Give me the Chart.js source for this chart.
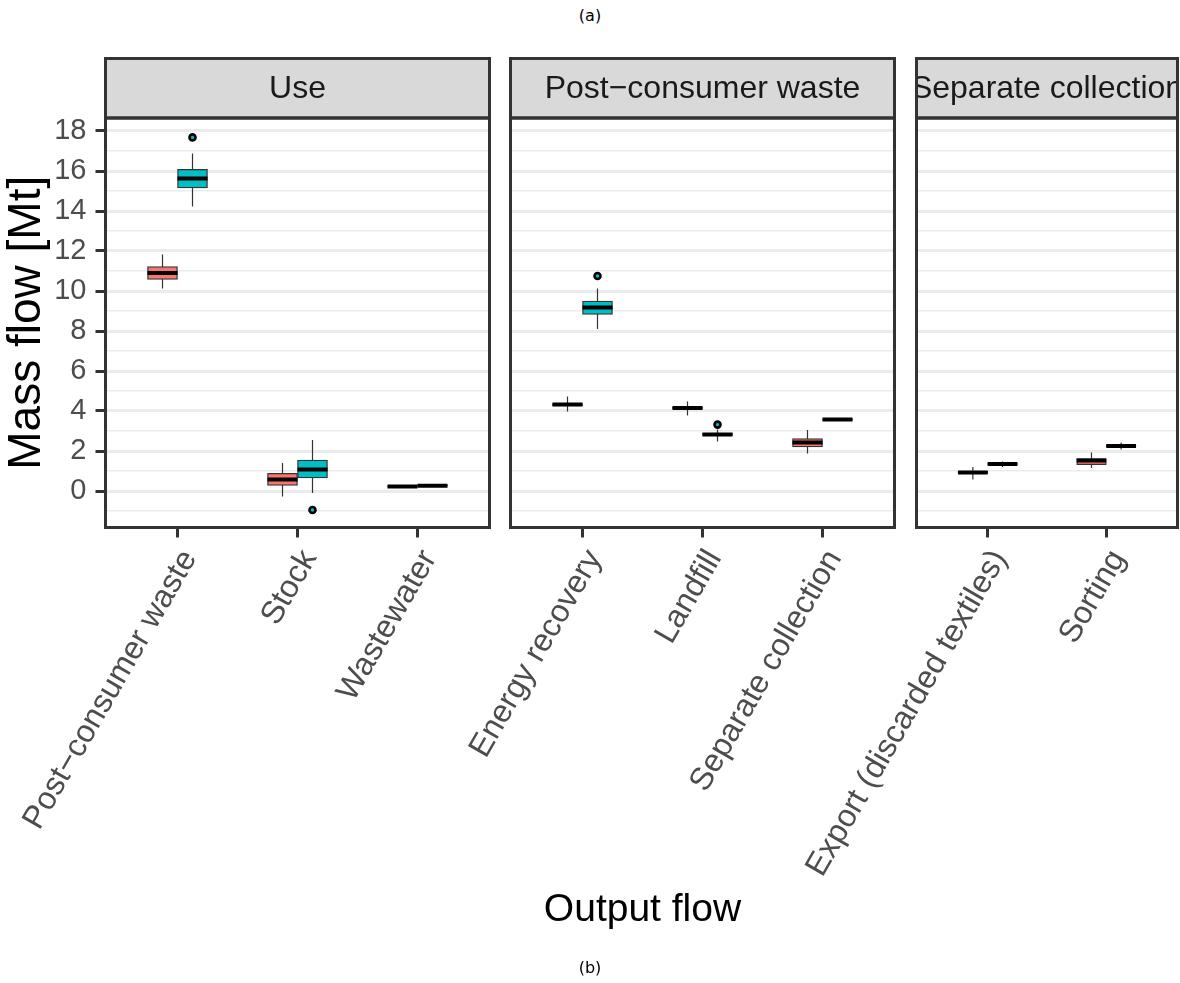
<!DOCTYPE html>
<html>
<head>
<meta charset="utf-8">
<script src="https://cdn.jsdelivr.net/npm/chart.js@4.4.1/dist/chart.umd.min.js"></script>
<style>
  html, body { margin: 0; padding: 0; background: #ffffff; }
  #page { position: relative; width: 1180px; height: 983px; overflow: hidden; font-family: "Liberation Sans", Arial, sans-serif; }
  #page canvas { position: absolute; left: 0; top: 0; }
  .cap { position: absolute; left: 0; width: 1180px; text-align: center; font-family: "DejaVu Sans", sans-serif; font-size: 16px; line-height: 1; color: #000; }
  #xtitle { position: absolute; left: 105px; width: 1075px; top: 888px; text-align: center; font-size: 39px; line-height: 1; color: #000; }
</style>
</head>
<body>
<div id="page">
  <div class="cap" style="top:8px">(a)</div>
  <canvas id="panelUse" width="1180" height="983"></canvas>
  <canvas id="panelWaste" width="1180" height="983"></canvas>
  <canvas id="panelCollection" width="1180" height="983"></canvas>
  <div id="xtitle">Output flow</div>
  <div class="cap" style="top:960px">(b)</div>
</div>
<script>
// Facet titles and output flows per facet
const panelTitles = ["Use", "Post−consumer waste", "Separate collection"];
const useFlows = ["Post−consumer waste", "Stock", "Wastewater"];
const wasteFlows = ["Energy recovery", "Landfill", "Separate collection"];
const collectionFlows = ["Export (discarded textiles)", "Sorting"];

// Box summaries per flow: [lower whisker, Q1, median, Q3, upper whisker]
const useRed = [[10.13, 10.58, 10.90, 11.22, 11.83], [-0.27, 0.28, 0.58, 0.88, 1.40], [0.20, 0.20, 0.22, 0.24, 0.25]];
const useTeal = [[14.22, 15.15, 15.63, 16.08, 16.87], [-0.10, 0.65, 1.08, 1.55, 2.55], [0.25, 0.25, 0.265, 0.28, 0.29]];
const wasteRed = [[3.97, 4.27, 4.32, 4.37, 4.72], [3.78, 4.10, 4.15, 4.20, 4.48], [1.87, 2.20, 2.42, 2.62, 3.05]];
const wasteTeal = [[8.10, 8.83, 9.18, 9.50, 10.12], [2.47, 2.78, 2.83, 2.88, 3.08], [3.52, 3.54, 3.57, 3.60, 3.62]];
const collectionRed = [[0.58, 0.88, 0.93, 0.98, 1.20], [1.15, 1.32, 1.52, 1.62, 1.92]];
const collectionTeal = [[1.20, 1.31, 1.35, 1.39, 1.48], [2.07, 2.20, 2.25, 2.30, 2.42]];

// Outlying runs per flow
const useRedOutliers = [[], [], []];
const useTealOutliers = [[17.68], [-0.95], []];
const wasteRedOutliers = [[], [], []];
const wasteTealOutliers = [[10.75], [3.32], []];
const collectionRedOutliers = [[], []];
const collectionTealOutliers = [[], []];

// Value axis
const yTickValues = [0, 2, 4, 6, 8, 10, 12, 14, 16, 18];
const yMinorValues = [-1, 1, 3, 5, 7, 9, 11, 13, 15, 17];
const yMin = -1.825, yMax = 18.65;

const RED = "#F8766D", TEAL = "#00BFC4";
const PANEL_TOP = 118, PANEL_BOTTOM = 527.5, STRIP_TOP = 58.5;
const X_AXIS_HEIGHT = 400;
const PAGE_W = 1180, PAGE_H = 983;
const FONT = '"Liberation Sans", Arial, sans-serif';

// Facet frame: grey strip with its title, dark border round the panel
const facetFrame = {
  id: "facetFrame",
  afterDraw(chart, args, o) {
    const { ctx, chartArea: ca } = chart;
    const w = ca.right - ca.left;
    ctx.save();
    ctx.fillStyle = "#D9D9D9";
    ctx.fillRect(ca.left, o.stripTop, w, ca.top - o.stripTop);
    ctx.lineWidth = 3;
    ctx.strokeStyle = "#333333";
    ctx.strokeRect(ca.left, o.stripTop, w, ca.top - o.stripTop);
    ctx.strokeRect(ca.left, ca.top, w, ca.bottom - ca.top);
    ctx.beginPath();
    ctx.rect(ca.left + 1.5, o.stripTop + 1.5, w - 3, ca.top - o.stripTop - 3);
    ctx.clip();
    ctx.fillStyle = "#1A1A1A";
    ctx.font = "32px " + FONT;
    ctx.textAlign = "center";
    ctx.textBaseline = "middle";
    ctx.fillText(o.title, (ca.left + ca.right) / 2, (o.stripTop + ca.top) / 2 + 1);
    ctx.restore();
  }
};

function boxDatasets(stats, outliers, offset, half, boxPx, color) {
  const whiskers = [], medians = [], boxes = [], points = [];
  stats.forEach((s, i) => {
    const x = i + offset;
    whiskers.push({ x: x, y: s[0] }, { x: x, y: s[4] }, { x: x, y: null });
    medians.push({ x: x - half, y: s[2] }, { x: x + half, y: s[2] }, { x: x, y: null });
    boxes.push({ x: x, y: [s[1], s[3]] });
    outliers[i].forEach(v => points.push({ x: x, y: v }));
  });
  return [
    { type: "line", data: whiskers, borderColor: "#333333", borderWidth: 1.2, pointRadius: 0, spanGaps: false, order: 3 },
    { type: "bar", data: boxes, backgroundColor: color, borderColor: "#333333", borderWidth: 1.3,
      borderSkipped: false, grouped: false, barThickness: boxPx, order: 2 },
    { type: "line", data: medians, borderColor: "#000000", borderWidth: 4, borderCapStyle: "butt",
      pointRadius: 0, spanGaps: false, order: 1 },
    { type: "scatter", data: points, pointRadius: 3, pointBorderWidth: 2.6, pointBackgroundColor: color,
      pointBorderColor: "#000000", order: 0 }
  ];
}

function makePanel(id, title, flows, red, teal, redOut, tealOut, left, right, showY) {
  const n = flows.length;
  const xMin = -0.6, xMax = n - 0.4;
  const unitPx = (right - left) / (xMax - xMin);
  const half = 0.125;                 // half width of one box, in flow units
  const boxPx = 2 * half * unitPx;

  const datasets = [
    ...boxDatasets(red, redOut, -half, half, boxPx, RED),
    ...boxDatasets(teal, tealOut, half, half, boxPx, TEAL)
  ];

  return new Chart(document.getElementById(id), {
    type: "bar",
    data: { datasets },
    plugins: [facetFrame],
    options: {
      responsive: false,
      animation: false,
      events: [],
      layout: {
        padding: {
          left: showY ? 0 : left,
          right: PAGE_W - right,
          top: PANEL_TOP,
          bottom: PAGE_H - PANEL_BOTTOM - X_AXIS_HEIGHT
        }
      },
      plugins: {
        legend: { display: false },
        tooltip: { enabled: false },
        facetFrame: { title: title, stripTop: STRIP_TOP }
      },
      scales: {
        x: {
          type: "linear",
          min: xMin,
          max: xMax,
          offset: false,
          afterBuildTicks: s => { s.ticks = flows.map((_, i) => ({ value: i })); },
          afterFit: s => { s.height = X_AXIS_HEIGHT; s.paddingLeft = 0; s.paddingRight = 0; },
          border: { display: false },
          grid: { offset: false, drawOnChartArea: false, drawTicks: true, tickLength: 10, tickWidth: 3, tickColor: "#333333" },
          ticks: {
            autoSkip: false,
            minRotation: 60,
            maxRotation: 60,
            padding: 6,
            labelOffset: 12,
            color: "#4D4D4D",
            font: { family: FONT, size: 32 },
            callback: v => flows[Math.round(v)]
          }
        },
        y: {
          type: "linear",
          min: yMin,
          max: yMax,
          afterBuildTicks: s => {
            s.ticks = yMinorValues.concat(yTickValues).sort((p, q) => p - q).map(v => ({ value: v }));
          },
          afterFit: s => { s.width = showY ? left : 0; s.paddingTop = 0; s.paddingBottom = 0; },
          border: { display: false },
          grid: {
            color: "#EBEBEB",
            lineWidth: c => (yTickValues.includes(c.tick.value) ? 3 : 1.6),
            drawTicks: showY,
            tickLength: 10,
            tickWidth: 3,
            tickColor: c => (yTickValues.includes(c.tick.value) ? "#333333" : "rgba(0,0,0,0)")
          },
          ticks: {
            display: showY,
            autoSkip: false,
            padding: 9,
            color: "#4D4D4D",
            font: { family: FONT, size: 29 },
            callback: v => (yTickValues.includes(v) ? String(v) : "")
          },
          title: {
            display: showY,
            text: "Mass flow [Mt]",
            color: "#000000",
            padding: { top: 0, bottom: 0 },
            font: { family: FONT, size: 46 }
          }
        }
      }
    }
  });
}

makePanel("panelUse", panelTitles[0], useFlows, useRed, useTeal, useRedOutliers, useTealOutliers, 105.5, 489.5, true);
makePanel("panelWaste", panelTitles[1], wasteFlows, wasteRed, wasteTeal, wasteRedOutliers, wasteTealOutliers, 510.5, 894.5, false);
makePanel("panelCollection", panelTitles[2], collectionFlows, collectionRed, collectionTeal, collectionRedOutliers, collectionTealOutliers, 916.5, 1177.5, false);
</script>
</body>
</html>
